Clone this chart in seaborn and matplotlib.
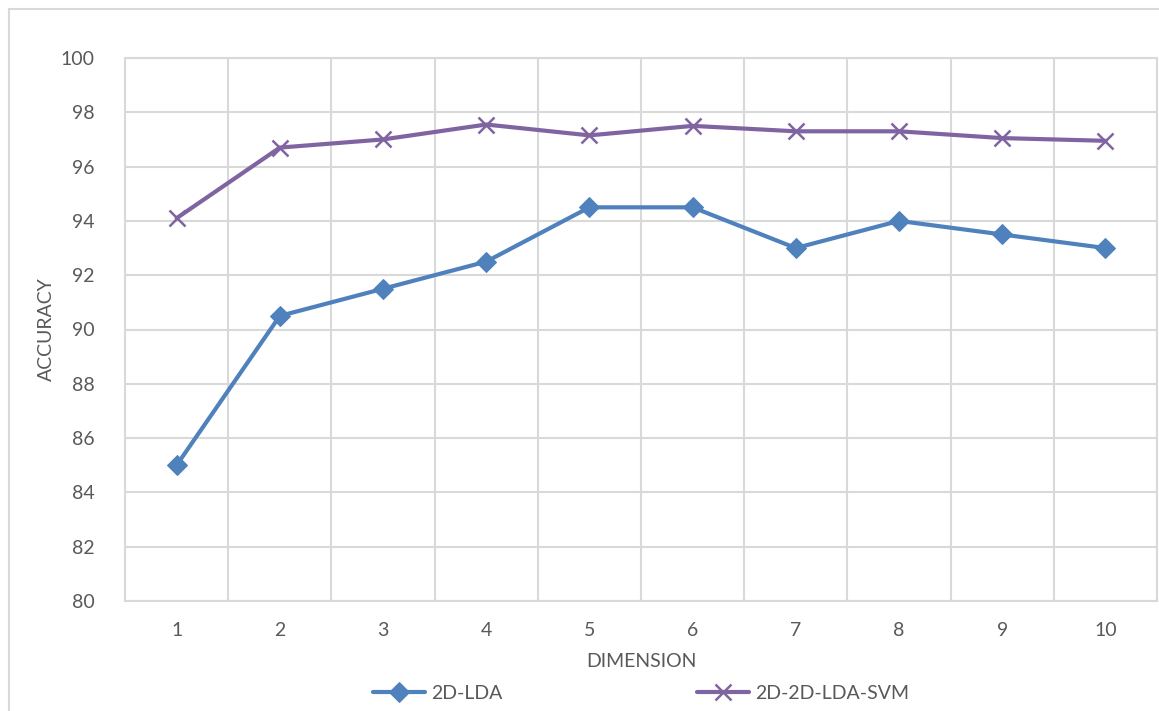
import numpy as np
import pandas as pd
import seaborn as sns
import matplotlib
import matplotlib.pyplot as plt
from matplotlib.patches import Rectangle

dims = [1, 2, 3, 4, 5, 6, 7, 8, 9, 10]
lda = [85.0, 90.5, 91.5, 92.5, 94.5, 94.5, 93.0, 94.0, 93.5, 93.0]
lda_svm = [94.1, 96.7, 97.0, 97.55, 97.15, 97.5, 97.3, 97.3, 97.05, 96.95]
names = ['2D-LDA', '2D-2D-LDA-SVM']
yticks = [80, 82, 84, 86, 88, 90, 92, 94, 96, 98, 100]

sns.set_style('white')
plt.rcParams['font.family'] = ['Lato', 'DejaVu Sans']
txt = '#595959'
grid = '#D9D9D9'

fig = plt.figure(figsize=(11.59, 7.11), dpi=100)
ax = fig.add_axes([125 / 1159, 1 - 601 / 711, (1157 - 125) / 1159, (601 - 58) / 711])

sns.lineplot(x=dims, y=lda, color='#4F81BD', marker='D', markersize=10,
             markeredgecolor='#4F81BD', lw=3, label=names[0], ax=ax, zorder=3)
sns.lineplot(x=dims, y=lda_svm, color='#8064A2', marker='x', markersize=11,
             markeredgewidth=1.8, markeredgecolor='#8064A2', lw=3, label=names[1], ax=ax, zorder=3)

ax.set_xlim(0.5, 10.5)
ax.set_ylim(80, 100)
ax.set_xticks(dims)
ax.set_yticks(yticks)
ax.set_xticks(np.arange(0.5, 11, 1), minor=True)
ax.grid(False)
ax.grid(True, which='minor', axis='x', color=grid, lw=1.5)
ax.grid(True, which='major', axis='y', color=grid, lw=1.5)
ax.set_axisbelow(True)
for s in ax.spines.values():
    s.set_color(grid)
    s.set_linewidth(1.5)
ax.tick_params(axis='both', which='both', length=0, labelsize=14, colors=txt)
ax.tick_params(axis='x', pad=15)
ax.tick_params(axis='y', pad=22)
ax.set_xlabel('DIMENSION', fontsize=14, color=txt, labelpad=10)
ax.set_ylabel('ACCURACY', fontsize=14, color=txt, labelpad=4)

h, lab = ax.get_legend_handles_labels()
ax.legend(h, lab, loc='center', bbox_to_anchor=(0.5, -0.17), ncol=2, frameon=False,
          fontsize=14, labelcolor=txt, handlelength=2.7, handletextpad=0.3,
          columnspacing=10)

fig.patches.append(Rectangle((9 / 1159, -0.1), 2, 1 - 9 / 711 + 0.1, transform=fig.transFigure,
                             fill=False, edgecolor=grid, lw=1.5, zorder=0))

fig.savefig('out.png', dpi=100)
